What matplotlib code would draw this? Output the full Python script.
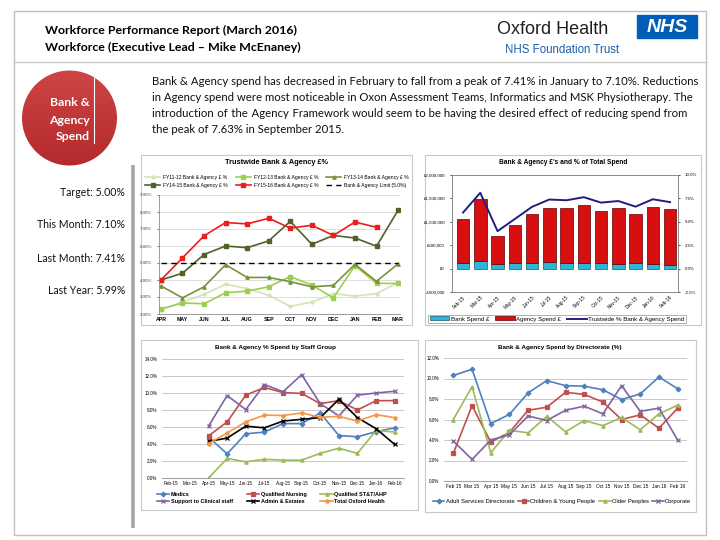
import numpy as np
import matplotlib
matplotlib.use("Agg")
import matplotlib.pyplot as plt
from matplotlib.patches import Circle, Rectangle
from matplotlib.colors import LinearSegmentedColormap
from matplotlib.ticker import FuncFormatter, MultipleLocator

# ---------------- data ----------------
fy_months = ["APR", "MAY", "JUN", "JUL", "AUG", "SEP", "OCT", "NOV", "DEC", "JAN", "FEB", "MAR"]
fy11_12 = [2.25, 2.7, 3.15, 3.75, 3.5, 3.1, 2.45, 2.7, 3.2, 3.05, 3.2, 3.85]
fy12_13 = [2.3, 2.65, 2.6, 3.25, 3.35, 3.6, 4.2, 3.7, 2.95, 4.85, 3.8, 3.8]
fy13_14 = [3.65, 2.95, 3.6, 4.9, 4.15, 4.15, 3.9, 3.6, 3.68, 4.92, 3.92, 4.95]
fy14_15 = [4.0, 4.4, 5.5, 6.0, 5.9, 6.3, 7.45, 6.1, 6.62, 6.47, 5.99, 8.1]
fy15_16 = [4.0, 5.3, 6.6, 7.38, 7.3, 7.63, 7.05, 7.22, 6.62, 7.41, 7.10, np.nan]
limit = 5.0

months_dash = ["Feb-15", "Mar-15", "Apr-15", "May-15", "Jun-15", "Jul-15", "Aug-15",
               "Sep-15", "Oct-15", "Nov-15", "Dec-15", "Jan-16", "Feb-16"]
months_space = ["Feb 15", "Mar 15", "Apr 15", "May 15", "Jun 15", "Jul 15", "Aug 15",
                "Sep 15", "Oct 15", "Nov 15", "Dec 15", "Jan 16", "Feb 16"]

bank_spend = [128000, 171000, 100000, 128000, 114000, 142000, 128000,
              128000, 128000, 100000, 114000, 100000, 85000]
agency_spend = [925000, 1323000, 597000, 804000, 1052000, 1160000, 1167000,
                1231000, 1110000, 1188000, 1052000, 1216000, 1195000]
trust_pct = [5.99, 8.1, 4.0, 5.3, 6.6, 7.38, 7.3, 7.63, 7.05, 7.22, 6.62, 7.41, 7.10]

nan = np.nan
medics = [nan, nan, 4.8, 2.85, 5.2, 5.4, 6.4, 6.4, 7.65, 5.0, 4.85, 5.45, 5.9]
nursing = [nan, nan, 4.95, 6.6, 9.75, 10.65, 10.05, 9.95, 8.75, 9.1, 8.0, 9.1, 9.1]
stt_ahp = [nan, nan, 0.0, 2.3, 1.9, 2.2, 2.1, 2.1, 2.9, 3.5, 2.9, 5.6, 5.4]
support = [nan, nan, 6.1, 9.7, 8.05, 11.0, 10.15, 12.15, 8.75, 7.3, 9.75, 10.0, 10.2]
admin = [nan, nan, 4.3, 4.7, 6.1, 5.9, 6.7, 6.9, 7.1, 9.25, 7.1, 5.8, 3.95]
total_oh = [nan, nan, 4.05, 5.3, 6.6, 7.4, 7.35, 7.65, 7.15, 7.25, 6.7, 7.45, 7.1]

adult = [10.3, 10.9, 5.6, 6.5, 8.6, 9.8, 9.3, 9.25, 8.9, 7.95, 8.5, 10.15, 9.0]
children = [2.7, 7.35, 3.8, 4.75, 6.9, 7.2, 8.65, 8.45, 7.7, 6.0, 6.45, 5.15, 7.1]
older = [6.0, 9.2, 2.75, 4.95, 4.7, 6.3, 4.8, 5.9, 5.4, 6.2, 5.0, 6.55, 7.4]
corporate = [3.9, 2.1, 4.0, 4.5, 6.35, 5.9, 6.9, 7.3, 6.55, 9.3, 6.8, 7.1, 4.0]

paragraph = [
    "Bank & Agency spend has decreased in February to fall from a peak of 7.41% in January to 7.10%. Reductions",
    "in Agency spend were most noticeable in Oxon Assessment Teams, Informatics and MSK Physiotherapy. The",
    "introduction of the Agency Framework would seem to be having the desired effect of reducing spend from",
    "the peak of 7.63% in September 2015.",
]
kpis = ["Target: 5.00%", "This Month: 7.10%", "Last Month: 7.41%", "Last Year: 5.99%"]

BODY = ["Lato", "DejaVu Sans"]
ARIAL = ["Liberation Sans", "DejaVu Sans"]

fig = plt.figure(figsize=(7.2, 5.4), dpi=100)
fig.patch.set_facecolor("white")


def rect(x0, y0, x1, y1):
    return [x0 / 720, 1 - y1 / 540, (x1 - x0) / 720, (y1 - y0) / 540]


# overlay in pixel coords
ax0 = fig.add_axes([0, 0, 1, 1])
ax0.set_xlim(0, 720)
ax0.set_ylim(540, 0)
ax0.axis("off")

ax0.add_patch(Rectangle((14, 11), 692, 524, fill=False, ec="#c0c0c0", lw=1))
ax0.plot([14, 706], [62, 62], color="#c8c8c8", lw=1)
ax0.plot([133, 133], [165, 528], color="#a6a6a6", lw=2.6, solid_capstyle="butt")

ax0.text(45, 30, "Workforce Performance Report (March 2016)", family=BODY,
         weight="bold", fontsize=8.9, va="center")
ax0.text(45, 47, "Workforce (Executive Lead \u2013 Mike McEnaney)", family=BODY,
         weight="bold", fontsize=8.9, va="center")

# logo
ax0.text(497, 30, "Oxford Health", family=ARIAL, fontsize=13, va="center", color="#231f20")
ax0.add_patch(Rectangle((637, 15), 60, 23, color="#005eb8"))
ax0.text(667, 27, "NHS", family=ARIAL, fontsize=14, weight="bold", style="italic",
         color="white", ha="center", va="center")
ax0.text(505, 50, "NHS Foundation Trust", family=ARIAL, fontsize=8.3, va="center",
         color="#1a5fa8")

# red circle with gradient
circ = Circle((69.5, 118), 47.5, transform=ax0.transData, fc="none", ec="none")
ax0.add_patch(circ)
grad = np.linspace(0, 1, 100).reshape(-1, 1)
cm = LinearSegmentedColormap.from_list("rd", ["#cf4444", "#b42a2c"])
im = ax0.imshow(grad, cmap=cm, extent=(22, 117, 166, 70), aspect="auto", zorder=2)
im.set_clip_path(circ)
ax0.set_xlim(0, 720)
ax0.set_ylim(540, 0)
for yy, t in zip([102, 120, 137], ["Bank &", "Agency", "Spend"]):
    ax0.text(90, yy, t, family=BODY, weight="bold", fontsize=8.8, color="white",
             ha="right", va="center", zorder=3)
ax0.plot([94, 94], [78, 143], color="white", lw=0.8, zorder=3)

for yy, t in zip([193, 225, 258, 290], kpis):
    ax0.text(125, yy, t, family=BODY, fontsize=7.6, ha="right", va="center", color="#111111")

# justified paragraph: one text per line, padded with hair spaces
renderer = fig.canvas.get_renderer()
px0, px1 = 152, 687
PSIZE = 8.2


def measure(s):
    t = ax0.text(0, 0, s, family=BODY, fontsize=PSIZE)
    w = t.get_window_extent(renderer).width
    t.remove()
    return w


pad_char, pad_w = " ", measure("a a") - measure("aa")
for ch in ["\u200a", "\u2009"]:
    w = measure("a" + ch + "a") - measure("aa")
    if w > 0.3:
        pad_char, pad_w = ch, w
        break

for i, (line, yy) in enumerate(zip(paragraph, [85, 101, 117, 133])):
    words = line.split()
    text = line
    if i < len(paragraph) - 1:
        extra = (px1 - px0) - measure(line)
        k = max(0, int(round(extra / pad_w)))
        n_gap = len(words) - 1
        per = [k // n_gap + (1 if g < k % n_gap else 0) for g in range(n_gap)]
        text = words[0] + "".join(" " + pad_char * p + w for p, w in zip(per, words[1:]))
    ax0.text(px0, yy, text, family=BODY, fontsize=PSIZE, va="baseline", color="#111111")

# chart frames
for (a, b, c, d) in [(141, 155, 412, 325), (425, 155, 701, 325),
                     (141, 340, 418, 510), (425, 340, 696, 512)]:
    ax0.add_patch(Rectangle((a, b), c - a, d - b, fill=False, ec="#c8c8c8", lw=0.8))

# ---------------- chart 1 ----------------
ax1 = fig.add_axes(rect(159, 195, 400, 314))
x12 = np.arange(12)
series1 = [
    (fy11_12, "FY11-12 Bank & Agency £ %", "#d4e3b8", "D", 1.8),
    (fy12_13, "FY12-13 Bank & Agency £ %", "#9bd04f", "s", 2.2),
    (fy13_14, "FY13-14 Bank & Agency £ %", "#77933c", "^", 2.4),
    (fy14_15, "FY14-15 Bank & Agency £ %", "#4f6228", "s", 2.6),
    (fy15_16, "FY15-16 Bank & Agency £ %", "#ee1c1c", "s", 2.6),
]
h1 = []
for vals, lab, col, mk, ms in series1:
    h1 += ax1.plot(x12, vals, color=col, marker=mk, ms=ms, lw=1.2, label=lab)
h1 += [ax1.hlines(limit, 0, 11, colors="black", linestyles=(0, (4, 3)), lw=1.0,
                  label="Bank & Agency Limit (5.0%)")]
ax1.set_xlim(-0.09, 11.09)
ax1.set_ylim(2, 9)
ax1.set_xticks(x12)
ax1.set_xticklabels(fy_months, family=ARIAL, weight="bold", fontsize=3.8)
ax1.yaxis.set_major_locator(MultipleLocator(1))
ax1.yaxis.set_major_formatter(FuncFormatter(lambda v, p: f"{v:.2f}%"))
ax1.tick_params(axis="y", labelsize=3.2, length=1.5, width=0.5, colors="#404040")
ax1.tick_params(axis="x", length=0, pad=2)
ax1.grid(axis="y", color="#d9d9d9", lw=0.6)
ax1.set_axisbelow(True)
for s in ["top", "right"]:
    ax1.spines[s].set_visible(False)
for s in ["left", "bottom"]:
    ax1.spines[s].set_color("#8c8c8c")
    ax1.spines[s].set_linewidth(0.6)
for t in ax1.get_yticklabels():
    t.set_family(ARIAL)
ax0.text(277, 162, "Trustwide Bank & Agency £%", family=ARIAL, weight="bold",
         fontsize=5.3, ha="center", va="center")
order = [0, 3, 1, 4, 2, 5]
lab1 = [h.get_label() for h in h1]
fig.legend([h1[i] for i in order], [lab1[i] for i in order], loc="center",
           bbox_to_anchor=(277 / 720, 1 - 181 / 540), ncol=3, frameon=False,
           prop={"family": ARIAL, "size": 3.6}, handlelength=3, columnspacing=1.6,
           labelspacing=0.6, handletextpad=0.6)

# ---------------- chart 2 ----------------
ax2 = fig.add_axes(rect(452, 175, 678, 292))
x13 = np.arange(13)
b1 = ax2.bar(x13, bank_spend, width=0.72, color="#2db6d6", edgecolor="#135c73", lw=0.5,
             label="Bank Spend £")
b2 = ax2.bar(x13, agency_spend, bottom=bank_spend, width=0.72, color="#d80f10",
             edgecolor="#5e0000", lw=0.5, label="Agency Spend £")
ax2.set_ylim(-500000, 2000000)
ax2.set_xlim(-0.64, 12.46)
ax2.yaxis.set_major_locator(MultipleLocator(500000))
ax2.yaxis.set_major_formatter(FuncFormatter(
    lambda v, p: ("-£{:,.0f}" if v < 0 else "£{:,.0f}").format(abs(v))))
ax2.set_xticks(x13)
ax2.set_xticklabels(months_dash, rotation=45, ha="right", rotation_mode="anchor",
                    family=ARIAL, fontsize=3.4)
ax2.tick_params(axis="y", labelsize=3.2, length=1.5, width=0.5)
ax2.tick_params(axis="x", length=0, pad=2)
for s in ax2.spines.values():
    s.set_color("#8c8c8c")
    s.set_linewidth(0.6)
axr = ax2.twinx()
l2, = axr.plot(x13, trust_pct, color="#1f1f80", lw=1.4, label="Trustwide % Bank & Agency Spend")
axr.set_ylim(-2.5, 10)
axr.yaxis.set_major_locator(MultipleLocator(2.5))
axr.yaxis.set_major_formatter(FuncFormatter(lambda v, p: f"{v:.1f}%"))
axr.tick_params(axis="y", labelsize=3.2, length=1.5, width=0.5)
for s in axr.spines.values():
    s.set_color("#8c8c8c")
    s.set_linewidth(0.6)
for t in ax2.get_yticklabels() + axr.get_yticklabels():
    t.set_family(ARIAL)
ax0.text(563, 163, "Bank & Agency £'s and % of Total Spend", family=ARIAL, weight="bold",
         fontsize=4.8, ha="center", va="center")
leg2 = fig.legend([b1, b2, l2], [b1.get_label(), b2.get_label(), l2.get_label()],
                  loc="center", bbox_to_anchor=(557 / 720, 1 - 319 / 540), ncol=3,
                  prop={"family": ARIAL, "size": 4.4}, fancybox=False, edgecolor="#8c8c8c",
                  handlelength=3.2, handleheight=0.6, columnspacing=1.0,
                  handletextpad=0.2, borderpad=0.25)
leg2.get_frame().set_linewidth(0.6)

# ---------------- chart 3 ----------------
ax3 = fig.add_axes(rect(162, 359, 404, 478))
series3 = [
    (medics, "Medics", "#4f81bd", "D"),
    (nursing, "Qualified Nursing", "#c0504d", "s"),
    (stt_ahp, "Qualified ST&T/AHP", "#9bbb59", "^"),
    (support, "Support to Clinical staff", "#8064a2", "x"),
    (admin, "Admin & Estates", "#000000", "x"),
    (total_oh, "Total Oxford Health", "#f79646", "o"),
]
h3 = []
for vals, lab, col, mk in series3:
    h3 += ax3.plot(x13, vals, color=col, marker=mk, ms=2.4, mew=0.9, lw=1.2, label=lab)
ax3.set_xlim(-0.5, 12.5)
ax3.set_ylim(0, 14)
ax3.yaxis.set_major_locator(MultipleLocator(2))
ax3.yaxis.set_major_formatter(FuncFormatter(lambda v, p: f"{v:.1f}%"))
ax3.set_xticks(x13)
ax3.set_xticklabels(months_dash, family=ARIAL, fontsize=3.3)
ax3.tick_params(axis="y", labelsize=3.3, length=0)
ax3.tick_params(axis="x", length=0, pad=2)
ax3.grid(axis="y", color="#bfbfbf", lw=0.6)
ax3.set_axisbelow(True)
for s in ["top", "right", "left"]:
    ax3.spines[s].set_visible(False)
ax3.spines["bottom"].set_color("#a6a6a6")
for t in ax3.get_yticklabels():
    t.set_family(ARIAL)
ax0.text(275, 348, "Bank & Agency % Spend by Staff Group", family=ARIAL, weight="bold",
         fontsize=4.6, ha="center", va="center")
lab3 = [h.get_label() for h in h3]
fig.legend([h3[i] for i in order], [lab3[i] for i in order], loc="center",
           bbox_to_anchor=(272 / 720, 1 - 498 / 540), ncol=3, frameon=False,
           prop={"family": ARIAL, "size": 4.0, "weight": "bold"}, handlelength=2.2,
           columnspacing=2.5, labelspacing=0.5, handletextpad=0.3)

# ---------------- chart 4 ----------------
ax4 = fig.add_axes(rect(444, 358, 687, 481))
series4 = [
    (adult, "Adult Services Directorate", "#4f81bd", "D"),
    (children, "Children & Young People", "#c0504d", "s"),
    (older, "Older Peoples", "#9bbb59", "^"),
    (corporate, "Corporate", "#8064a2", "x"),
]
h4 = []
for vals, lab, col, mk in series4:
    h4 += ax4.plot(x13, vals, color=col, marker=mk, ms=2.4, mew=0.9, lw=1.2, label=lab)
ax4.set_xlim(-0.5, 12.5)
ax4.set_ylim(0, 12)
ax4.yaxis.set_major_locator(MultipleLocator(2))
ax4.yaxis.set_major_formatter(FuncFormatter(lambda v, p: f"{v:.1f}%"))
ax4.set_xticks(x13)
ax4.set_xticklabels(months_space, family=ARIAL, fontsize=3.4)
ax4.tick_params(axis="y", labelsize=3.3, length=0)
ax4.tick_params(axis="x", length=0, pad=2)
ax4.grid(axis="y", color="#bfbfbf", lw=0.6)
ax4.set_axisbelow(True)
for s in ["top", "right", "left"]:
    ax4.spines[s].set_visible(False)
ax4.spines["bottom"].set_color("#a6a6a6")
for t in ax4.get_yticklabels():
    t.set_family(ARIAL)
ax0.text(560, 348, "Bank & Agency Spend by Directorate (%)", family=ARIAL, weight="bold",
         fontsize=4.6, ha="center", va="center")
fig.legend(h4, [h.get_label() for h in h4], loc="center",
           bbox_to_anchor=(562 / 720, 1 - 501 / 540), ncol=4, frameon=False,
           prop={"family": ARIAL, "size": 4.2}, handlelength=2.0,
           columnspacing=0.6, handletextpad=0.2)

fig.savefig("out.png", dpi=100)
